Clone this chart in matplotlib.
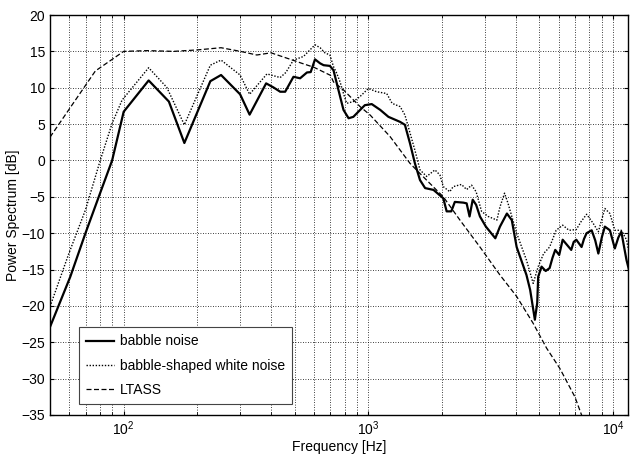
import matplotlib
matplotlib.use("Agg")
import matplotlib.pyplot as plt
from matplotlib.ticker import LogLocator, FixedLocator, NullFormatter

plt.rcParams['font.family'] = ['Liberation Sans', 'DejaVu Sans']
plt.rcParams['mathtext.fontset'] = 'custom'
plt.rcParams['mathtext.rm'] = 'Liberation Sans'
plt.rcParams['mathtext.it'] = 'Liberation Sans'

# babble noise (solid)
babble_f = [50, 60.5, 69.8, 79.1, 89.7, 100, 126.5, 153, 177, 226, 250, 299, 327, 382, 409, 436, 457,
            494, 526, 561, 581, 605, 635, 656, 696, 720, 766, 791, 830, 868, 925, 967, 1032, 1118, 1207,
            1348, 1410, 1479, 1549, 1625, 1705, 1845, 2023, 2088, 2181, 2255, 2444, 2520, 2590, 2668,
            2755, 2856, 3020, 3300, 3447, 3680, 3853, 4034, 4424, 4580, 4788, 4895, 4940, 5100, 5300,
            5500, 5650, 5800, 6020, 6220, 6400, 6741, 6900, 7070, 7430, 7600, 7790, 8170, 8450, 8700,
            9000, 9250, 9700, 10160, 10500, 10800, 11100, 11340, 11700]
babble_db = [-22.9, -16.0, -10.0, -5.0, 0.0, 6.7, 11.0, 8.1, 2.4, 10.9, 11.75, 9.1, 6.3, 10.6, 10.05, 9.45,
             9.45, 11.5, 11.3, 12.1, 12.15, 13.9, 13.35, 13.1, 13.0, 12.4, 8.8, 6.95, 5.8, 6.0, 6.95, 7.6,
             7.75, 6.95, 6.0, 5.3, 4.9, 2.35, -0.4, -2.7, -3.8, -4.05, -5.2, -7.0, -7.0, -5.7, -5.8, -5.9,
             -7.7, -5.4, -6.1, -7.7, -9.1, -10.7, -9.1, -7.3, -8.2, -11.9, -15.75, -17.8, -21.9, -19.6,
             -16.0, -14.6, -15.2, -14.8, -13.4, -12.3, -13.0, -10.9, -11.4, -12.3, -11.2, -10.9, -11.9,
             -10.8, -10.0, -9.6, -11.0, -12.8, -10.5, -9.1, -9.6, -12.1, -10.6, -9.8, -12.0, -13.7, -15.5]

# babble-shaped white noise (dotted)
white_f = [50, 59.7, 69.8, 80.3, 89.7, 98.5, 126.5, 150, 177, 226, 250, 299, 327, 385, 436, 460, 494,
           543, 605, 635, 664, 696, 720, 742, 766, 791, 815, 868, 925, 1000, 1080, 1188, 1250, 1348,
           1410, 1549, 1625, 1730, 1870, 1960, 2023, 2150, 2220, 2400, 2520, 2640, 2755, 2900, 3085,
           3350, 3447, 3600, 3720, 4034, 4424, 4713, 4940, 5200, 5500, 5850, 6220, 6600, 7070, 7400,
           7790, 8270, 8700, 9250, 9700, 10160, 10800, 11340, 11700]
white_db = [-20.1, -12.8, -6.8, 0.06, 5.1, 8.3, 12.75, 10.05, 4.9, 13.1, 13.8, 11.75, 9.1, 11.9, 11.4,
            12.1, 13.8, 14.3, 15.9, 15.5, 14.8, 14.5, 12.9, 12.0, 10.8, 9.2, 7.85, 8.1, 8.8, 9.9, 9.45,
            9.2, 7.85, 7.4, 6.25, 1.4, -1.3, -2.2, -1.3, -2.0, -3.6, -4.3, -3.6, -3.3, -4.0, -3.4, -4.3,
            -7.0, -7.7, -8.2, -6.4, -4.5, -5.9, -10.0, -13.7, -16.9, -14.6, -12.8, -11.9, -9.6, -8.9,
            -9.6, -9.5, -8.4, -7.4, -8.6, -9.8, -6.6, -7.3, -9.6, -9.6, -10.9, -13.2]

# LTASS (dashed)
ltass_f = [50, 76.6, 100, 125, 160, 200, 250, 300, 350, 400, 500, 530, 600, 700, 720, 791, 925,
           1016, 1225, 1479, 1625, 2023, 2366, 2856, 3447, 4034, 4713, 5345, 6057, 6976, 7430, 8000]
ltass_db = [3.2, 12.3, 15.0, 15.1, 15.0, 15.2, 15.5, 15.0, 14.5, 14.8, 13.7, 13.4, 12.8, 11.7, 10.8,
            9.7, 7.4, 6.25, 3.3, -0.4, -1.8, -5.0, -8.2, -11.9, -15.75, -18.7, -22.4, -25.8, -28.6,
            -32.5, -35.0, -37.0]

labels = ['babble noise', 'babble-shaped white noise', 'LTASS']

fig = plt.figure(figsize=(6.31, 4.55), dpi=100)
ax = fig.add_axes([50 / 631, 40 / 455, 578 / 631, 400 / 455])

ax.plot(babble_f, babble_db, color='black', linewidth=1.6, linestyle='-', label=labels[0])
ax.plot(white_f, white_db, color='black', linewidth=1.0, linestyle=(0, (1, 1.2)), label=labels[1])
ax.plot(ltass_f, ltass_db, color='black', linewidth=0.9, linestyle=(0, (4, 2)), label=labels[2])

ax.set_xscale('log')
ax.set_xlim(50, 11500)
ax.set_ylim(-35, 20)
ax.set_yticks(range(-35, 21, 5))
ax.xaxis.set_major_locator(FixedLocator([100, 1000, 10000]))
ax.xaxis.set_minor_locator(LogLocator(base=10, subs=range(2, 10), numticks=20))
ax.xaxis.set_minor_formatter(NullFormatter())
ax.set_xticks([100, 1000, 10000])
ax.set_xticklabels([r'$10^{2}$', r'$10^{3}$', r'$10^{4}$'])

ax.grid(True, which='both', axis='x', color='black', linestyle=(0, (1, 2)), linewidth=0.6)
ax.grid(True, which='major', axis='y', color='black', linestyle=(0, (1, 2)), linewidth=0.6)

ax.tick_params(which='both', direction='in', top=True, right=True, labelsize=10, length=3)
ax.tick_params(which='minor', length=2)
for s in ax.spines.values():
    s.set_linewidth(1.0)

ax.set_xlabel('Frequency [Hz]', fontsize=10, labelpad=1)
ax.set_ylabel('Power Spectrum [dB]', fontsize=10, labelpad=1)

leg = ax.legend(loc='lower left', bbox_to_anchor=(0.051, 0.027), fontsize=10, fancybox=False,
                framealpha=1, edgecolor='#444444', borderaxespad=0, handlelength=2.0,
                handletextpad=0.4, labelspacing=0.75, borderpad=0.5)
leg.get_frame().set_linewidth(0.8)

fig.savefig('out.png', dpi=100)
